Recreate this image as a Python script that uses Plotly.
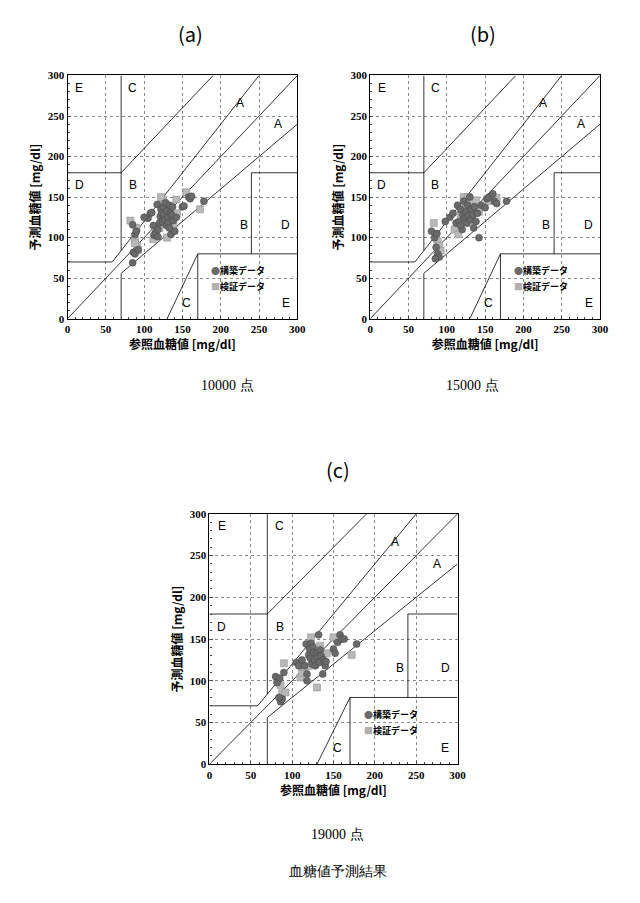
import plotly.graph_objects as go

# estimated readings: (reference, predicted)
a_build_x = [85, 88, 90, 86, 88, 85, 92, 105, 108, 110, 112, 113, 115, 117, 118, 120, 121, 122, 123, 124, 125, 126, 127, 128, 129, 130, 131, 132, 133, 134, 135, 136, 137, 138, 140, 142, 150, 152, 158, 160, 162, 178, 100, 118, 133]
a_build_y = [116, 104, 108, 82, 80, 69, 85, 124, 130, 131, 115, 103, 106, 141, 101, 118, 126, 135, 130, 120, 138, 128, 122, 143, 115, 133, 125, 118, 140, 130, 104, 128, 138, 121, 108, 125, 138, 139, 150, 148, 151, 145, 125, 110, 112]
a_val_x = [82, 88, 90, 91, 92, 88, 112, 115, 120, 125, 127, 130, 134, 138, 142, 143, 155, 173, 122, 128]
a_val_y = [121, 97, 112, 90, 85, 93, 98, 110, 112, 147, 140, 100, 133, 116, 147, 130, 156, 135, 150, 125]

b_build_x = [80, 84, 86, 88, 90, 85, 87, 104, 108, 112, 114, 116, 118, 120, 121, 122, 124, 125, 126, 127, 128, 130, 131, 132, 134, 135, 136, 138, 140, 142, 145, 150, 152, 155, 160, 162, 165, 178, 98, 118]
b_build_y = [108, 100, 88, 80, 76, 74, 105, 125, 130, 118, 140, 120, 135, 110, 128, 145, 124, 132, 118, 140, 127, 150, 122, 135, 128, 112, 138, 120, 130, 100, 140, 137, 148, 150, 154, 145, 142, 145, 120, 115]
b_val_x = [83, 86, 88, 90, 92, 110, 115, 118, 122, 125, 128, 130, 133, 138, 142, 155, 165, 120, 127]
b_val_y = [118, 100, 95, 90, 84, 110, 104, 128, 150, 143, 150, 118, 140, 146, 132, 145, 149, 132, 125]

c_build_x = [80, 82, 85, 86, 88, 84, 90, 105, 108, 112, 115, 117, 118, 120, 121, 122, 123, 124, 125, 126, 127, 128, 130, 131, 132, 133, 134, 135, 137, 138, 140, 141, 150, 152, 155, 158, 160, 163, 178, 118]
c_build_y = [105, 98, 103, 75, 78, 80, 110, 122, 118, 125, 118, 144, 108, 131, 138, 127, 145, 120, 140, 134, 125, 118, 133, 128, 155, 122, 137, 130, 108, 125, 118, 123, 138, 133, 146, 155, 150, 150, 144, 100]
c_val_x = [82, 86, 88, 90, 92, 110, 112, 115, 120, 123, 125, 128, 130, 134, 142, 150, 172, 125]
c_val_y = [100, 95, 85, 121, 86, 104, 110, 116, 118, 152, 140, 120, 92, 142, 133, 152, 131, 128]

ticks = [0, 50, 100, 150, 200, 250, 300]

# Clarke error grid boundaries
grid_lines = [
    ([0, 300], [0, 300]),
    ([0, 58.3], [70, 70]), ([58.3, 250], [70, 300]),
    ([70, 70], [84, 300]),
    ([0, 70], [180, 180]), ([70, 190], [180, 300]),
    ([70, 70], [0, 56]), ([70, 300], [56, 240]),
    ([130, 170], [0, 80]), ([170, 170], [0, 80]), ([170, 300], [80, 80]),
    ([240, 240], [80, 180]), ([240, 300], [180, 180]),
]
zone_labels = [(15, 285, "E"), (85, 285, "C"), (225, 266, "A"), (275, 240, "A"),
               (15, 165, "D"), (85, 165, "B"), (230, 115, "B"), (285, 115, "D"),
               (155, 20, "C"), (285, 20, "E")]

panels = [
    ("", [0.090, 0.456], [0.658, 0.931], a_build_x, a_build_y, a_val_x, a_val_y),
    ("2", [0.572, 0.938], [0.658, 0.931], b_build_x, b_build_y, b_val_x, b_val_y),
    ("3", [0.316, 0.711], [0.158, 0.439], c_build_x, c_build_y, c_val_x, c_val_y),
]

fig = go.Figure()
serif = "Liberation Serif"
jp = "Noto Sans CJK JP"
for n, xd, yd, bx, by, vx, vy in panels:
    xa, ya = "x" + n, "y" + n
    for gx, gy in grid_lines:
        fig.add_trace(go.Scatter(x=gx, y=gy, mode="lines", line=dict(color="black", width=0.8),
                                 xaxis=xa, yaxis=ya, showlegend=False, hoverinfo="skip"))
    fig.add_trace(go.Scatter(x=vx, y=vy, mode="markers", xaxis=xa, yaxis=ya, showlegend=False,
                             marker=dict(symbol="square", size=7, color="#b8b8b8", line=dict(color="#888", width=0.5))))
    fig.add_trace(go.Scatter(x=bx, y=by, mode="markers", xaxis=xa, yaxis=ya, showlegend=False,
                             marker=dict(symbol="circle", size=7, color="#6a6a6a", line=dict(color="#444", width=0.5))))
    ax = dict(range=[0, 300], tickvals=ticks, showgrid=True, gridcolor="#888", griddash="dot",
              zeroline=False, showline=True, linecolor="black", linewidth=1.2, mirror=True,
              ticks="inside", ticklen=3, minor=dict(ticks="inside", ticklen=2, dtick=10, showgrid=False),
              tickfont=dict(family=serif, size=11, color="black", weight="bold"))
    fig.layout["xaxis" + n] = dict(ax, domain=xd, anchor=ya,
                                   title=dict(text="<b>参照血糖値 [mg/dl]</b>", font=dict(family=jp, size=12, color="black"), standoff=4))
    fig.layout["yaxis" + n] = dict(ax, domain=yd, anchor=xa,
                                   title=dict(text="<b>予測血糖値 [mg/dl]</b>", font=dict(family=jp, size=12, color="black"), standoff=4))
    for lx, ly, t in zone_labels:
        fig.add_annotation(x=lx, y=ly, text=t, xref=xa, yref=ya, showarrow=False,
                           font=dict(family="Liberation Sans", size=12, color="black"))
    fig.add_annotation(x=185, y=60, xref=xa, yref=ya, xanchor="left", showarrow=False,
                       text="<span style='color:#6a6a6a'>●</span><b>構築データ</b>",
                       font=dict(family=jp, size=9, color="black"))
    fig.add_annotation(x=185, y=40, xref=xa, yref=ya, xanchor="left", showarrow=False,
                       text="<span style='color:#b0b0b0'>■</span><b>検証データ</b>",
                       font=dict(family=jp, size=9, color="black"))

texts = [(0.262, 0.997, "(a)", 20, jp), (0.775, 0.997, "(b)", 20, jp), (0.52, 0.489, "(c)", 20, jp),
         (0.30, 0.583, "10000 点", 14, serif), (0.78, 0.583, "15000 点", 14, serif),
         (0.52, 0.069, "19000 点", 14, serif), (0.52, 0.027, "血糖値予測結果", 14, serif)]
for tx, ty, t, s, f in texts:
    fig.add_annotation(x=tx, y=ty, xref="paper", yref="paper", text=t, showarrow=False,
                       font=dict(family=f, size=s, color="black"))

fig.update_layout(width=640, height=903, margin=dict(l=0, r=0, t=0, b=0),
                  plot_bgcolor="white", paper_bgcolor="white")
fig.write_html("out.html")
